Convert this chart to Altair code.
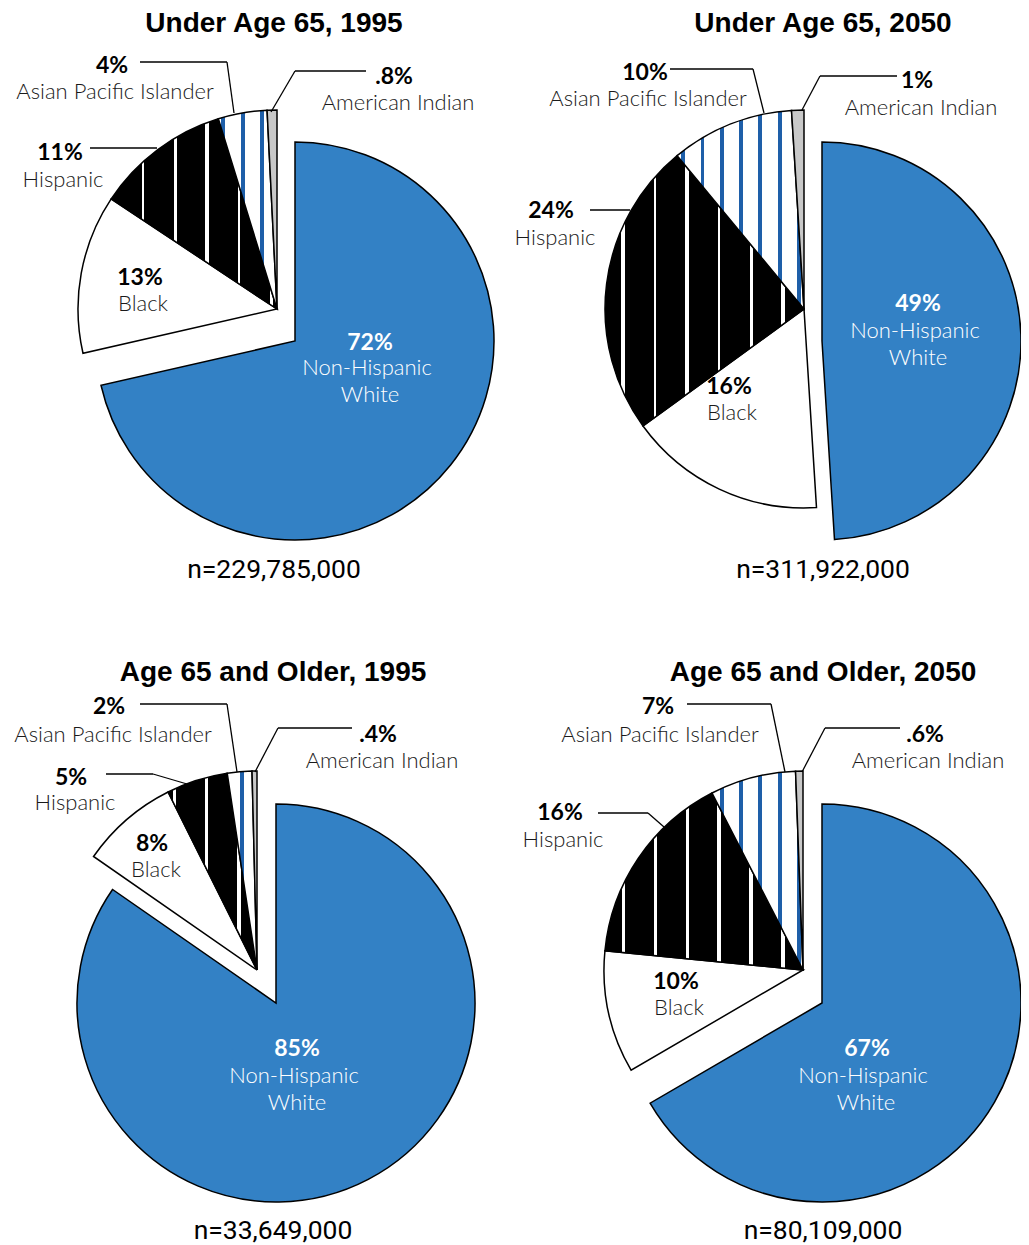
import math
import altair as alt
import pandas as pd

# ---------------- data ----------------
PANELS = ["Under Age 65, 1995", "Under Age 65, 2050",
          "Age 65 and Older, 1995", "Age 65 and Older, 2050"]
GROUPS = ["Non-Hispanic White", "Black", "Hispanic",
          "Asian Pacific Islander", "American Indian"]
SHARE_U65_1995 = [72, 13, 11, 4, 0.8]
SHARE_U65_2050 = [49, 16, 24, 10, 1]
SHARE_65P_1995 = [85, 8, 5, 2, 0.4]
SHARE_65P_2050 = [67, 10, 16, 7, 0.6]
N_TOTALS = [229785000, 311922000, 33649000, 80109000]

SHARES = [SHARE_U65_1995, SHARE_U65_2050, SHARE_65P_1995, SHARE_65P_2050]

# ---------------- styles / layout ----------------
OFF = 8            # page margin
R = 199            # pie radius (px)
BLUE = "#3381c5"
STRIPE_BLUE = "#1e5fa9"
GRAY = "#c8c8c8"
NAME_LINES = {"Non-Hispanic White": ["Non-Hispanic", "White"]}

LAYOUT = [
    dict(center=(277, 309), white=(295, 341), title=(274, 32), n=(274, 578),
         pct={"Non-Hispanic White": (370, 350), "Black": (140, 285), "Hispanic": (60, 160),
              "Asian Pacific Islander": (112, 73), "American Indian": (394, 84)},
         name={"Non-Hispanic White": (367, 375), "Black": (143, 311), "Hispanic": (63, 187),
               "Asian Pacific Islander": (115, 99), "American Indian": (398, 110)},
         leaders=[(140, 62, 227, 62), (227, 62, 234, 113), (295, 71, 366, 71),
                  (295, 71, 271, 112), (90, 148, 157, 148)],
         wphase=38, bphase=15),
    dict(center=(804, 309), white=(822, 341), title=(823, 32), n=(823, 578),
         pct={"Non-Hispanic White": (918, 311), "Black": (729, 394), "Hispanic": (551, 218),
              "Asian Pacific Islander": (645, 80), "American Indian": (917, 88)},
         name={"Non-Hispanic White": (915, 338), "Black": (732, 420), "Hispanic": (555, 245),
               "Asian Pacific Islander": (648, 106), "American Indian": (921, 115)},
         leaders=[(670, 69, 753, 69), (753, 69, 764, 113), (820, 76, 897, 76),
                  (820, 76, 802, 110), (590, 210, 630, 210)],
         wphase=21, bphase=5),
    dict(center=(257, 970), white=(276, 1003), title=(273, 681), n=(273, 1239),
         pct={"Non-Hispanic White": (297, 1056), "Black": (152, 851), "Hispanic": (71, 785),
              "Asian Pacific Islander": (109, 714), "American Indian": (378, 742)},
         name={"Non-Hispanic White": (294, 1083), "Black": (156, 877), "Hispanic": (75, 810),
               "Asian Pacific Islander": (113, 742), "American Indian": (382, 768)},
         leaders=[(140, 704, 227, 704), (227, 704, 237, 772), (278, 728, 352, 728),
                  (278, 728, 255, 772), (106, 774, 153, 774), (153, 774, 187, 784)],
         wphase=18, bphase=15),
    dict(center=(803, 970), white=(822, 1003), title=(823, 681), n=(823, 1239),
         pct={"Non-Hispanic White": (867, 1056), "Black": (676, 989), "Hispanic": (560, 820),
              "Asian Pacific Islander": (658, 714), "American Indian": (925, 742)},
         name={"Non-Hispanic White": (863, 1083), "Black": (679, 1015), "Hispanic": (563, 847),
               "Asian Pacific Islander": (660, 742), "American Indian": (928, 768)},
         leaders=[(687, 704, 771, 704), (771, 704, 785, 772), (825, 728, 900, 728),
                  (825, 728, 802, 772), (598, 813, 648, 813), (648, 813, 664, 827)],
         wphase=20, bphase=4),
]


def pct_text(v):
    s = f"{v:g}%"
    return s[1:] if s.startswith("0.") else s


def stripe_fill(a0, a1, base, stripe, period, width, phase):
    xs = [0.0, R * math.sin(a0), R * math.sin(a1)]
    for ang, v in ((math.pi / 2, R), (3 * math.pi / 2, -R)):
        if a0 <= ang <= a1:
            xs.append(v)
    lo, hi = min(xs), max(xs)
    span = hi - lo
    centers = []
    for k in range(-40, 40):
        rel = -phase - k * period
        if lo + 1 < rel < hi - 1:
            centers.append(rel)
    centers.sort()
    stops = [alt.GradientStop(color=base, offset=0)]
    for c in centers:
        o0 = max(0.0, min(1.0, round((c - width / 2 - lo) / span, 5)))
        o1 = max(0.0, min(1.0, round((c + width / 2 - lo) / span, 5)))
        stops += [alt.GradientStop(color=base, offset=o0),
                  alt.GradientStop(color=stripe, offset=o0),
                  alt.GradientStop(color=stripe, offset=o1),
                  alt.GradientStop(color=base, offset=o1)]
    stops.append(alt.GradientStop(color=base, offset=1))
    return alt.LinearGradient(gradient="linear", stops=stops, x1=0, x2=1, y1=0, y2=0)


# ---------------- tables ----------------
rows = []
for p, shares in zip(PANELS, SHARES):
    for i, (g, v) in enumerate(zip(GROUPS, shares)):
        rows.append({"panel": p, "group": g, "order": i, "pct": v})
df = pd.DataFrame(rows)

text_rows = []
rule_rows = []
for pi, L in enumerate(LAYOUT):
    tx, ty = L["title"]
    text_rows.append({"x": tx - OFF, "y": ty - OFF, "text": PANELS[pi], "kind": "title"})
    nx, ny = L["n"]
    text_rows.append({"x": nx - OFF, "y": ny - OFF, "text": f"n={N_TOTALS[pi]:,}", "kind": "n"})
    for g, v in zip(GROUPS, SHARES[pi]):
        inside = g == "Non-Hispanic White"
        px, py = L["pct"][g]
        text_rows.append({"x": px - OFF, "y": py - OFF, "text": pct_text(v),
                          "kind": "pct_in" if inside else "pct"})
        mx, my = L["name"][g]
        for li, line in enumerate(NAME_LINES.get(g, [g])):
            text_rows.append({"x": mx - OFF + (3 if li else 0), "y": my - OFF + 27 * li,
                              "text": line, "kind": "name_in" if inside else "name"})
    for (x1, y1, x2, y2) in L["leaders"]:
        rule_rows.append({"x": x1 - OFF, "y": y1 - OFF, "x2": x2 - OFF, "y2": y2 - OFF})
text_df = pd.DataFrame(text_rows)
rule_df = pd.DataFrame(rule_rows)

# ---------------- chart ----------------
theta_scale = alt.Scale(domain=[0, 1], range=[0, 2 * math.pi])
base = (
    alt.Chart(df)
    .transform_joinaggregate(total="sum(pct)", groupby=["panel"])
    .transform_window(cum="sum(pct)", sort=[alt.SortField("order")],
                      groupby=["panel"], frame=[None, 0])
    .transform_calculate(start="(datum.cum - datum.pct) / datum.total",
                         end="datum.cum / datum.total")
)

layers = []
for pi, L in enumerate(LAYOUT):
    shares = SHARES[pi]
    total = sum(shares)
    cum = 0.0
    for gi, g in enumerate(GROUPS):
        a0 = cum / total * 2 * math.pi
        cum += shares[gi]
        a1 = cum / total * 2 * math.pi
        cx, cy = L["white"] if gi == 0 else L["center"]
        if g == "Non-Hispanic White":
            fill = BLUE
        elif g == "Black":
            fill = "white"
        elif g == "Hispanic":
            fill = stripe_fill(a0, a1, "black", "white", 32, 3, L["wphase"])
        elif g == "Asian Pacific Islander":
            fill = stripe_fill(a0, a1, "white", STRIPE_BLUE, 19.3, 4, L["bphase"])
        else:
            fill = GRAY
        layers.append(
            base.transform_filter((alt.datum.panel == PANELS[pi]) & (alt.datum.group == g))
            .mark_arc(radius=R, fill=fill, stroke="black", strokeWidth=1.5)
            .encode(theta=alt.Theta("start:Q", scale=theta_scale), theta2="end:Q",
                    x=alt.value(cx - OFF), y=alt.value(cy - OFF))
        )

layers.append(
    alt.Chart(rule_df).mark_rule(color="black", strokeWidth=1.3).encode(
        x=alt.X("x:Q", scale=None), y=alt.Y("y:Q", scale=None), x2="x2:Q", y2="y2:Q")
)

text_base = alt.Chart(text_df).encode(
    x=alt.X("x:Q", scale=None), y=alt.Y("y:Q", scale=None), text="text:N")
STYLES = {
    "title": dict(font="Liberation Sans", fontWeight="bold", fontSize=28, color="black"),
    "n": dict(font="Roboto", fontSize=26.5, color="black"),
    "pct": dict(font="Lato", fontWeight="bold", fontSize=23, color="black"),
    "pct_in": dict(font="Lato", fontWeight="bold", fontSize=23, color="white"),
    "name": dict(font="Lato", fontWeight=300, fontSize=22, color="#1a1a1a"),
    "name_in": dict(font="Lato", fontWeight=300, fontSize=22, color="white"),
}
for kind, st in STYLES.items():
    layers.append(
        text_base.transform_filter(alt.datum.kind == kind)
        .mark_text(align="center", baseline="alphabetic", **st)
    )

chart = (
    alt.layer(*layers)
    .properties(width=1013, height=1237, padding=0, autosize="none")
    .configure_view(stroke=None)
)

chart.save("out.html", embed_options={"renderer": "svg", "actions": False})
